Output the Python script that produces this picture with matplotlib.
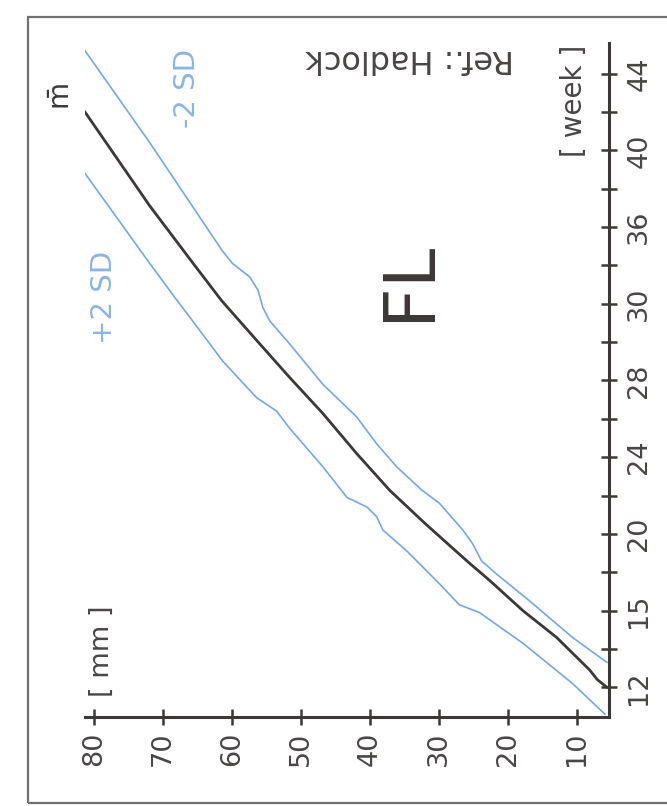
import matplotlib.pyplot as plt
from matplotlib.patches import Rectangle

# femur length (FL) vs gestational age
weeks_mean = [12.0, 12.4, 12.9, 14.6, 16.0, 17.6, 18.46, 19.1, 20.55, 22.27, 24.19,
              26.28, 28.15, 30.09, 32.17, 34.1, 37.1, 42.0]
mm_mean = [5.6, 7.0, 8.1, 12.9, 17.8, 22.7, 25.5, 27.5, 32.0, 37.1, 41.9,
           46.8, 51.6, 56.4, 61.5, 65.6, 71.9, 81.3]

weeks_minus = [13.3, 14.6, 16.5, 17.9, 18.6, 19.5, 20.2, 21.6, 22.3, 23.5, 24.7, 26.1,
               27.8, 29.9, 31.1, 31.8, 32.7, 33.4, 34.1, 34.77, 40.4, 45.2]
mm_minus = [5.6, 10.6, 16.8, 21.6, 23.8, 25.1, 26.5, 29.9, 32.5, 36.1, 39.0, 41.9,
            46.8, 51.6, 54.5, 55.5, 56.2, 57.4, 59.9, 61.4, 71.9, 81.3]

weeks_plus = [10.6, 12.2, 14.3, 15.9, 16.3, 17.4, 19.1, 20.2, 20.9, 21.4, 21.9, 23.5,
              25.5, 26.4, 27.1, 29.0, 31.3, 32.2, 34.1, 38.8]
mm_plus = [5.9, 10.6, 17.8, 24.1, 27.0, 29.9, 34.6, 38.1, 39.0, 40.4, 43.3, 46.8,
           51.6, 53.5, 56.4, 61.3, 66.1, 68.0, 71.9, 81.3]

mm_ticks = [10, 20, 30, 40, 50, 60, 70, 80]
week_ticks = [12, 16, 20, 24, 28, 32, 36, 40, 44]
week_labels = ["12", "15", "20", "24", "28", "30", "36", "40", "44"]
week_minor = [14, 18, 22, 26, 30, 34, 38, 42]

W, H = 667, 806
blue = "#74a9df"
blue_txt = "#8ab6e2"
dark = "#3d3838"
txt = "#4a4545"

fig = plt.figure(figsize=(W / 100, H / 100), dpi=100)
fig.patch.set_facecolor("white")

# axes edges in pixels (chart is printed turned on its side)
left, right, top, bottom = 85, 609, 43, 717
ax = fig.add_axes([left / W, 1 - bottom / H, (right - left) / W, (bottom - top) / H])
ax.set_xlim(81.3, 5.3)
ax.set_ylim(10.45, 45.6)

for s in ["top", "left"]:
    ax.spines[s].set_visible(False)
for s in ["right", "bottom"]:
    ax.spines[s].set_color(dark)
    ax.spines[s].set_linewidth(2.2)

ax.yaxis.tick_right()
ax.set_xticks(mm_ticks)
ax.set_xticklabels([str(v) for v in mm_ticks], rotation=90, va="top", ha="center")
ax.set_yticks(week_ticks)
ax.set_yticklabels(week_labels, rotation=90, va="center", ha="left")
ax.set_yticks(week_minor, minor=True)
ax.tick_params(axis="both", which="both", direction="inout", length=11, width=1.8,
               color=dark, labelcolor=txt, labelsize=19.5)
ax.tick_params(axis="x", pad=5)
ax.tick_params(axis="y", pad=7)
ax.patch.set_alpha(0)

ax.plot(mm_plus, weeks_plus, color=blue, lw=1.2)
ax.plot(mm_minus, weeks_minus, color=blue, lw=1.2)
ax.plot(mm_mean, weeks_mean, color=dark, lw=2.0)


def px_text(x, y, s, **kw):
    fig.text(x / W, 1 - y / H, s, ha="center", va="center", **kw)


px_text(409, 281, "FL", rotation=90, fontsize=51, color=dark)
px_text(410, 58, "Ref.: Hadlock", rotation=180, fontsize=23, color=txt)
px_text(574, 101, "[ week ]", rotation=90, fontsize=20, color=txt)
px_text(102, 651, "[ mm ]", rotation=90, fontsize=19.5, color=txt)
px_text(187, 88, "-2 SD", rotation=90, fontsize=21, color=blue_txt)
px_text(104, 297, "+2 SD", rotation=90, fontsize=21, color=blue_txt)
px_text(62, 97, r"$\bar{\mathrm{m}}$", rotation=90, fontsize=20, color=dark)

# outer frame of the printed figure
frame = Rectangle((28 / W, 1 - 803 / H), 1.0, (803 - 17) / H, transform=fig.transFigure,
                  fill=False, ec="#707070", lw=1.6)
fig.patches.append(frame)

fig.savefig("out.png", dpi=100)
